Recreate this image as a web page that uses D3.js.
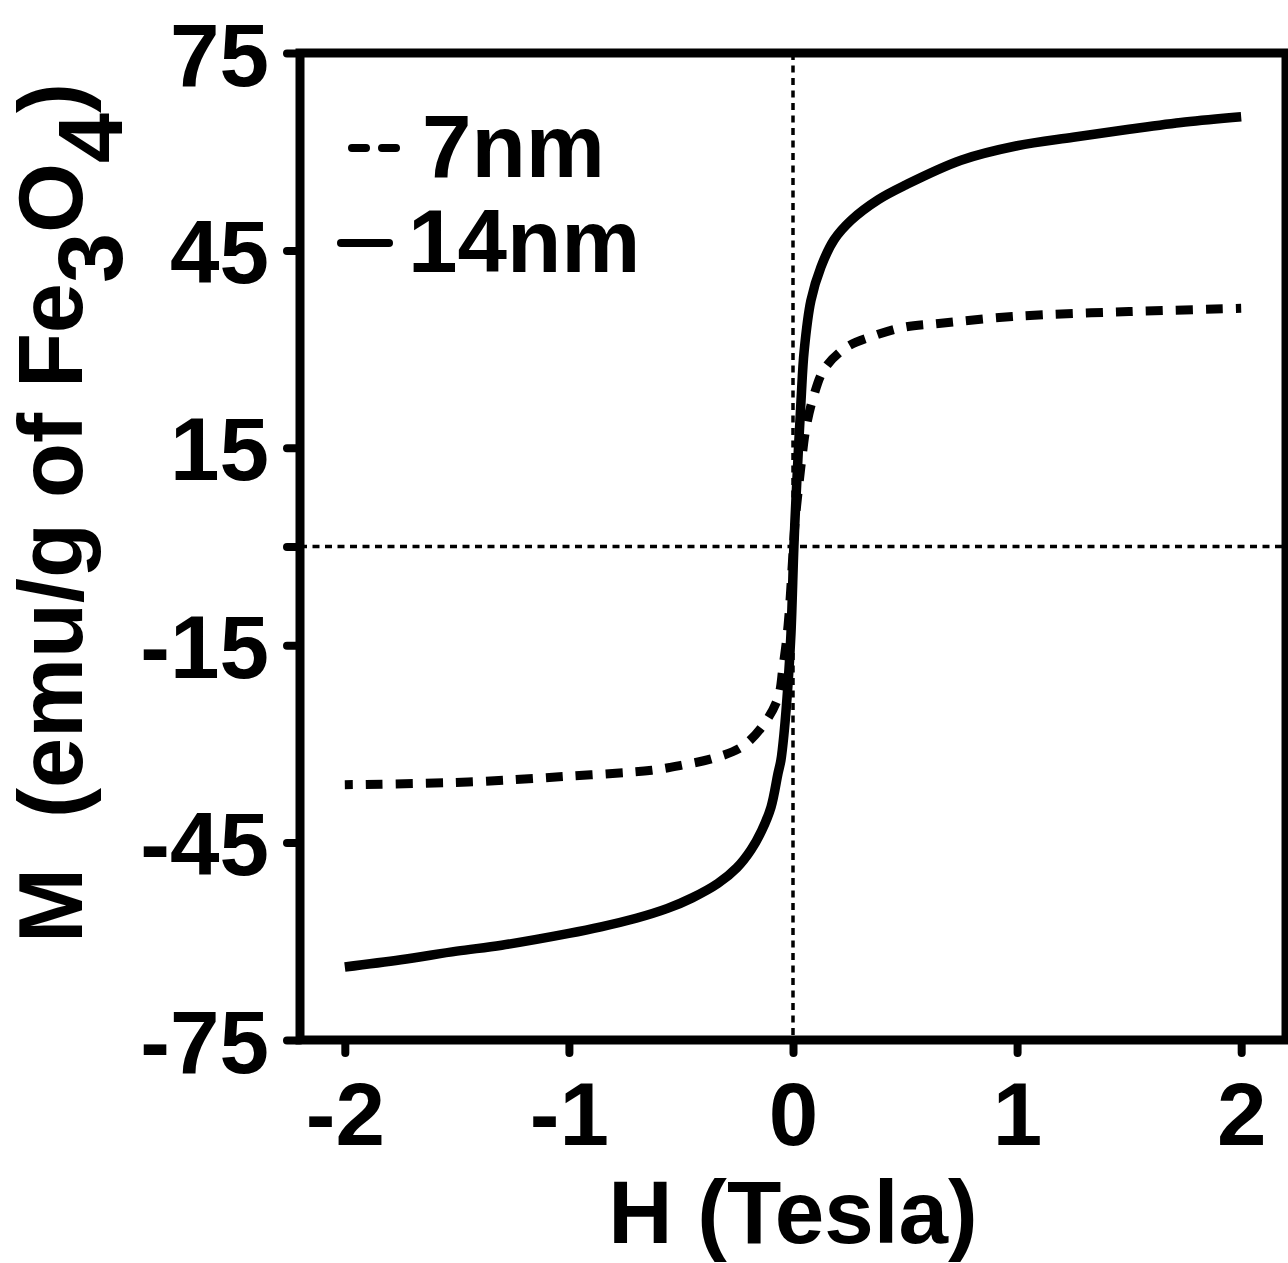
<!DOCTYPE html>
<html>
<head>
<meta charset="utf-8">
<script src="https://cdn.jsdelivr.net/npm/d3@7"></script>
<style>
  html, body { margin: 0; padding: 0; background: #fff; }
  svg { display: block; }
  text { font-family: "Liberation Sans", Arial, sans-serif; font-weight: bold; fill: #000; }
</style>
</head>
<body>
<svg id="chart" width="1288" height="1263"></svg>
<script>
// ---- data ----
const seriesNames = ["7nm", "14nm"];
const H_7nm = [-2.0, -1.45, -1.0, -0.63, -0.49, -0.357, -0.23, -0.134, -0.067, -0.045, -0.022, 0.0, 0.01, 0.025, 0.04, 0.058, 0.09, 0.14, 0.24, 0.36, 0.49, 0.65, 1.0, 1.5, 2.0];
const M_7nm = [-36.2, -35.8, -34.9, -34.0, -33.2, -32.2, -30.5, -27.2, -23.0, -18.4, -12.0, -1.0, 4.0, 9.0, 13.5, 18.0, 22.6, 27.0, 30.3, 32.0, 33.3, 33.9, 35.0, 35.7, 36.2];
const H_14nm = [-2.0, -1.75, -1.5, -1.3, -1.0, -0.857, -0.7, -0.56, -0.45, -0.335, -0.25, -0.1875, -0.14, -0.098, -0.067, -0.054, -0.04, -0.022, -0.009, 0.004, 0.013, 0.036, 0.05, 0.08, 0.125, 0.183, 0.26, 0.38, 0.5, 0.75, 1.0, 1.25, 1.5, 1.75, 2.0];
const M_14nm = [-63.9, -62.8, -61.5, -60.6, -58.8, -57.8, -56.5, -55.0, -53.4, -51.2, -48.8, -46.1, -43.2, -39.6, -34.5, -32.5, -28.4, -20.8, -13.2, 0.0, 7.1, 22.3, 29.8, 37.4, 42.5, 46.6, 49.6, 52.7, 54.9, 58.7, 60.9, 62.2, 63.4, 64.5, 65.3];
const xTicks = [-2, -1, 0, 1, 2];
const yTicks = [-75, -45, -15, 0, 15, 45, 75];
const yTickLabels = ["-75", "-45", "-15", "", "15", "45", "75"];
const xTitle = "H (Tesla)";

// ---- layout ----
const svg = d3.select("#chart");
const L = 300, R = 1286, T = 53, B = 1040;
const x = d3.scaleLinear().domain([-2.2, 2.2]).range([L, R]);
const y = d3.scaleLinear().domain([-75, 75]).range([B, T]);
const FS = 89;

// reference dotted lines
svg.append("line").attr("x1", x(0)).attr("x2", x(0)).attr("y1", T).attr("y2", B)
  .attr("stroke", "#000").attr("stroke-width", 3.5).attr("stroke-dasharray", "7,5.5");
svg.append("line").attr("x1", L).attr("x2", R).attr("y1", y(0)).attr("y2", y(0))
  .attr("stroke", "#000").attr("stroke-width", 3.5).attr("stroke-dasharray", "7,5.5");

// curves
const line = d3.line().x(d => x(d[0])).y(d => y(d[1])).curve(d3.curveCatmullRom.alpha(0.5));
const d7 = H_7nm.map((h, i) => [h, M_7nm[i]]);
const d14 = H_14nm.map((h, i) => [h, M_14nm[i]]);
svg.append("path").attr("d", line(d7)).attr("fill", "none").attr("stroke", "#000")
  .attr("stroke-width", 9).attr("stroke-dasharray", "17,13").attr("stroke-dashoffset", 9);
svg.append("path").attr("d", line(d14)).attr("fill", "none").attr("stroke", "#000")
  .attr("stroke-width", 9.5);

// axes
const yAxis = d3.axisLeft(y).tickValues(yTicks).tickSize(13).tickSizeOuter(0)
  .tickFormat(d => yTickLabels[yTicks.indexOf(d)]);
const gy = svg.append("g").attr("transform", `translate(${L},0)`).call(yAxis);
gy.select(".domain").remove();
gy.selectAll(".tick line").attr("stroke", "#000").attr("stroke-width", 8).attr("stroke-linecap", "round");
gy.selectAll(".tick text").attr("x", -31).attr("dy", "0.36em")
  .style("font-size", FS + "px").style("font-family", "'Liberation Sans', Arial, sans-serif")
  .style("font-weight", "bold").attr("fill", "#000");

const xAxis = d3.axisBottom(x).tickValues(xTicks).tickSize(13).tickSizeOuter(0)
  .tickFormat(d => String(d));
const gx = svg.append("g").attr("transform", `translate(0,${B})`).call(xAxis);
gx.select(".domain").remove();
gx.selectAll(".tick line").attr("stroke", "#000").attr("stroke-width", 8).attr("stroke-linecap", "round");
gx.selectAll(".tick text").attr("y", 105).attr("dy", 0)
  .style("font-size", FS + "px").style("font-family", "'Liberation Sans', Arial, sans-serif")
  .style("font-weight", "bold").attr("fill", "#000");

// frame
svg.append("rect").attr("x", L).attr("y", T).attr("width", R - L).attr("height", B - T)
  .attr("fill", "none").attr("stroke", "#000").attr("stroke-width", 9);

// axis titles
svg.append("text").attr("x", (L + R) / 2).attr("y", 1243).attr("text-anchor", "middle")
  .style("font-size", FS + "px").text(xTitle);

const yt = svg.append("text").attr("transform", "translate(82,513) rotate(-90)")
  .attr("text-anchor", "middle").style("font-size", "90px");
yt.append("tspan").text("M\u00a0\u00a0(emu/g of Fe");
yt.append("tspan").attr("dy", 40).text("3");
yt.append("tspan").attr("dy", -40).text("O");
yt.append("tspan").attr("dy", 40).text("4");
yt.append("tspan").attr("dy", -40).text(")");

// legend
svg.append("line").attr("x1", 352).attr("x2", 396).attr("y1", 148).attr("y2", 148)
  .attr("stroke", "#000").attr("stroke-width", 8).attr("stroke-linecap", "round")
  .attr("stroke-dasharray", "14,16");
svg.append("text").attr("x", 422).attr("y", 177).style("font-size", FS + "px").text(seriesNames[0]);
svg.append("line").attr("x1", 341).attr("x2", 389).attr("y1", 243).attr("y2", 243)
  .attr("stroke", "#000").attr("stroke-width", 8).attr("stroke-linecap", "round");
svg.append("text").attr("x", 408).attr("y", 272).style("font-size", FS + "px").text(seriesNames[1]);
</script>
</body>
</html>
